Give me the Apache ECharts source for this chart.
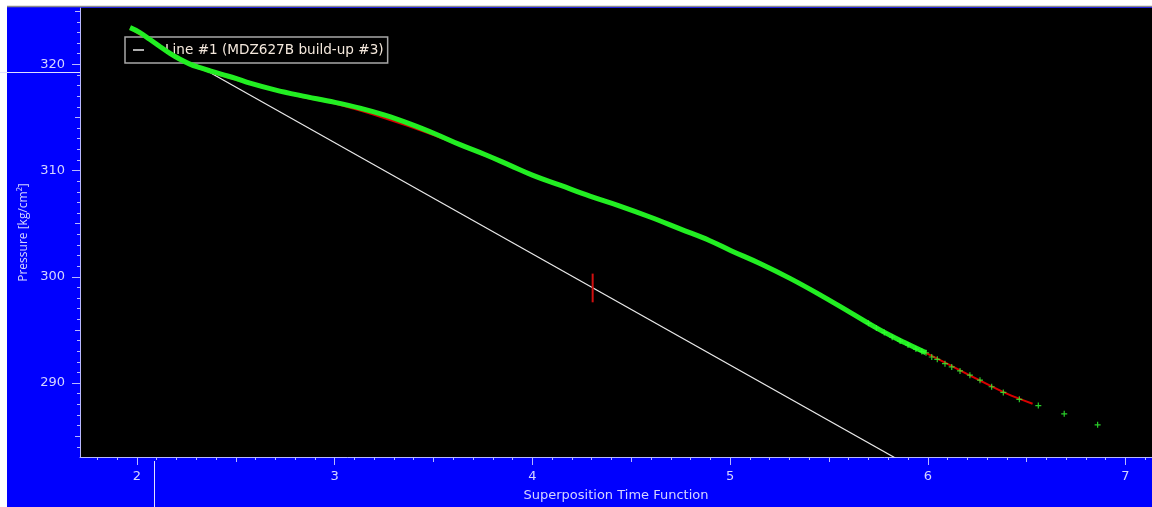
<!DOCTYPE html>
<html><head><meta charset="utf-8">
<script src="https://cdn.jsdelivr.net/npm/echarts@6/dist/echarts.min.js"></script>
<style>html,body{margin:0;padding:0;background:#fff}#c{width:1152px;height:507px}</style>
</head><body><div id="c"></div>
<script>
// ---- data ----
var xMajorTicks = [2, 3, 4, 5, 6, 7];
var yMajorTicks = [290, 300, 310, 320];
var legendName = 'Line #1 (MDZ627B build-up #3)';
// measured pressure (dense part of the record)
var measX = [1.965,2.015,2.066,2.116,2.167,2.218,2.268,2.319,2.370,2.430,2.500,2.572,2.698,2.824,3.002,3.128,3.254,3.381,3.507,3.634,3.760,3.887,4.003,4.140,4.291,4.443,4.595,4.747,4.898,5.005,5.151,5.303,5.455,5.607,5.758,5.885,5.991];
var measY = [323.45,322.99,322.33,321.68,321.03,320.47,320.02,319.68,319.38,319.05,318.68,318.23,317.60,317.08,316.42,315.88,315.22,314.40,313.47,312.44,311.51,310.49,309.55,308.62,307.59,306.66,305.63,304.51,303.40,302.46,301.25,299.85,298.30,296.65,295.00,293.79,292.85];
// measured pressure (sparse tail, individual markers)
var tailX = [5.70,5.74,5.78,5.82,5.86,5.90,5.94,5.97,5.991,6.020,6.048,6.087,6.121,6.163,6.213,6.264,6.323,6.382,6.463,6.559,6.690,6.859];
var tailY = [295.62,295.18,294.75,294.32,293.95,293.58,293.20,292.98,292.85,292.45,292.23,291.82,291.52,291.14,290.74,290.27,289.65,289.12,288.47,287.88,287.10,286.07];
// model (red) curve
var modelX = [1.965,2.10,2.27,2.50,2.82,3.00,3.25,3.50,3.76,4.00,4.30,4.60,4.90,5.15,5.45,5.76,6.00,6.20,6.40,6.53];
var modelY = [323.40,321.80,319.95,318.55,317.00,316.30,314.95,313.35,311.40,309.55,307.50,305.55,303.35,301.20,298.35,294.95,292.75,290.85,289.00,288.05];
// straight line #1
var lineX = [1.98, 5.85];
var lineY = [323.30, 282.80];
// red cursor mark on line #1
var markX = [4.305, 4.305];
var markY = [300.30, 297.60];

function zip(a, b) { var r = []; for (var i = 0; i < a.length; i++) r.push([a[i], b[i]]); return r; }
function range(a, b, s) { var r = []; for (var v = a; v <= b + 1e-9; v += s) r.push(Math.round(v * 1000) / 1000); return r; }

var X_MIN = 1.712, X_MAX = 7.134, Y_MIN = 283.04, Y_MAX = 325.3;
var axisCol = '#b8b8ff', txtCol = '#d4d4ff';
var font = 'DejaVu Sans';

function xAx(ticks, len, opts) {
  return Object.assign({
    type: 'value', min: X_MIN, max: X_MAX, position: 'bottom',
    splitLine: { show: false },
    axisLine: { show: false, onZero: false },
    axisTick: { show: true, length: len, customValues: ticks, lineStyle: { color: axisCol, width: 1 } },
    axisLabel: { show: false }
  }, opts || {});
}
function yAx(ticks, len, opts) {
  return Object.assign({
    type: 'value', min: Y_MIN, max: Y_MAX, position: 'left',
    splitLine: { show: false },
    axisLine: { show: false, onZero: false },
    axisTick: { show: true, length: len, customValues: ticks, lineStyle: { color: axisCol, width: 1 } },
    axisLabel: { show: false }
  }, opts || {});
}

var plusPath = 'path://M2,0H3V2H5V3H3V5H2V3H0V2H2Z';

var option = {
  backgroundColor: '#0000fe',
  animation: false,
  grid: { left: 80, right: 0, top: 8, bottom: 46, show: true, backgroundColor: '#000', borderWidth: 0 },
  legend: {
    left: 125, top: 37, data: [legendName],
    backgroundColor: '#000', borderColor: '#a8a8a8', borderWidth: 1.5,
    padding: [6, 4, 6, 8], icon: 'rect', itemWidth: 11, itemHeight: 1.5,
    textStyle: { color: '#f4e8dc', fontFamily: 'DejaVu Sans', fontSize: 13.6, padding: [0, 0, 0, 16] },
    selectedMode: false
  },
  xAxis: [
    xAx(xMajorTicks, 8, {
      axisLine: { show: true, onZero: false, lineStyle: { color: axisCol, width: 1 } },
      axisLabel: { show: true, customValues: xMajorTicks, color: txtCol, fontFamily: font, fontSize: 13, margin: 13 },
      name: 'Superposition Time Function', nameLocation: 'middle', nameGap: 32,
      nameTextStyle: { color: txtCol, fontFamily: font, fontSize: 13 }
    }),
    xAx(range(1.8, 7.1, 0.1), 3),
    xAx(range(2.5, 6.5, 1), 5)
  ],
  yAxis: [
    yAx(yMajorTicks, 8, {
      axisLine: { show: true, onZero: false, lineStyle: { color: axisCol, width: 1 } },
      axisLabel: { show: true, customValues: yMajorTicks, color: txtCol, fontFamily: font, fontSize: 13, margin: 15 },
      name: 'Pressure [kg/cm²]', nameLocation: 'middle', nameGap: 47, nameRotate: 90,
      nameTextStyle: { color: txtCol, fontFamily: 'Open Sans', fontSize: 12 }
    }),
    yAx(range(284, 325, 1), 3),
    yAx(range(285, 325, 10), 5)
  ],
  series: [
    { name: legendName, type: 'line', data: zip(lineX, lineY), symbol: 'none', clip: true,
      lineStyle: { color: '#e8e8e8', width: 1.2 }, itemStyle: { color: '#e8e8e8' }, z: 2 },
    { name: 'mark', type: 'line', data: zip(markX, markY), symbol: 'none',
      lineStyle: { color: '#d01010', width: 2 }, z: 3 },
    { name: 'model', type: 'line', data: zip(modelX, modelY), symbol: 'none', smooth: 0.3,
      lineStyle: { color: '#d80000', width: 2 }, z: 3 },
    { name: 'meas', type: 'line', data: zip(measX, measY), symbol: 'none', smooth: 0.4,
      lineStyle: { color: '#22ee22', width: 5 }, z: 4 },
    { name: 'measTail', type: 'scatter', data: zip(tailX, tailY), symbol: plusPath, symbolSize: 6,
      itemStyle: { color: '#33ff33' }, z: 5 }
  ],
  graphic: [
    { type: 'rect', shape: { x: 0, y: 0, width: 1152, height: 6 }, style: { fill: '#ffffff' }, z: 100 },
    { type: 'line', shape: { x1: 0, y1: 6.5, x2: 1152, y2: 6.5 }, style: { stroke: '#8a8a8a', lineWidth: 1.5 }, z: 100 },
    { type: 'rect', shape: { x: 0, y: 0, width: 7, height: 507 }, style: { fill: '#ffffff' }, z: 100 },
    { type: 'line', shape: { x1: 0, y1: 72.5, x2: 80, y2: 72.5 }, style: { stroke: '#e0e0ff', lineWidth: 1 }, z: 100 },
    { type: 'line', shape: { x1: 154.5, y1: 461, x2: 154.5, y2: 507 }, style: { stroke: '#e0e0ff', lineWidth: 1 }, z: 100 }
  ]
};
var chart = echarts.init(document.getElementById('c'), null, { renderer: 'canvas' });
chart.setOption(option);
</script></body></html>
